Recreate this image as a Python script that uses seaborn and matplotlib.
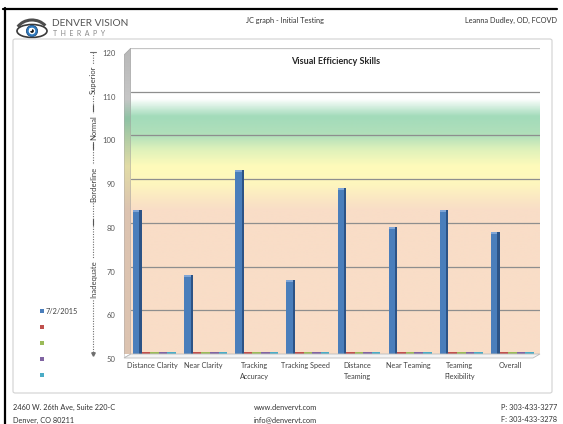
import numpy as np
import pandas as pd
import matplotlib
matplotlib.use("Agg")
import matplotlib.pyplot as plt
import matplotlib.transforms as mtransforms
from matplotlib.patches import Rectangle, Polygon, FancyBboxPatch, Ellipse, Circle, Arc
from matplotlib.lines import Line2D
from matplotlib.colors import LinearSegmentedColormap
import seaborn as sns

# ---- data -------------------------------------------------------------
categories = ["Distance Clarity", "Near Clarity", "Tracking\nAccuracy", "Tracking Speed",
              "Distance\nTeaming", "Near Teaming", "Teaming\nFlexibility", "Overall"]
scores_2015 = [83, 68, 92, 67, 88, 79, 83, 78]
series_2 = [50.5, 50.5, 50.5, 50.5, 50.5, 50.5, 50.5, 50.5]
series_3 = [50.5, 50.5, 50.5, 50.5, 50.5, 50.5, 50.5, 50.5]
series_4 = [50.5, 50.5, 50.5, 50.5, 50.5, 50.5, 50.5, 50.5]
series_5 = [50.5, 50.5, 50.5, 50.5, 50.5, 50.5, 50.5, 50.5]
series_names = ["7/2/2015", "Series 2", "Series 3", "Series 4", "Series 5"]
legend_labels = ["7/2/2015", "", "", "", ""]
series_colors = ["#4A7EBB", "#C0504D", "#9BBB59", "#8064A2", "#4BACC6"]
y_ticks = [50, 60, 70, 80, 90, 100, 110, 120]
band_labels = ["Inadequate", "Borderline", "Normal", "Superior"]

W, H = 563, 424


def fx(x):
    return x / W


def fy(y):
    return 1 - y / H


sns.set_style("white")
plt.rcParams["font.family"] = ["Lato", "DejaVu Sans"]

fig = plt.figure(figsize=(W / 100, H / 100), dpi=100)
fig.patch.set_facecolor("white")

rows = []
for name, vals in zip(series_names, [scores_2015, series_2, series_3, series_4, series_5]):
    for cat, v in zip(categories, vals):
        rows.append({"skill": cat, "score": v, "series": name})
df = pd.DataFrame(rows)

# ---- main plot area (back wall of the 3-D chart) -----------------------
ax = fig.add_axes([fx(131), fy(354), (540 - 131) / W, (354 - 48) / H])
sns.barplot(data=df, x="skill", y="score", hue="series", hue_order=series_names,
            order=categories, palette=series_colors, width=0.84, saturation=1,
            linewidth=0, legend=False, ax=ax, zorder=3)
XL = (-0.46, 7.54)
ax.set_xlim(*XL)
ax.set_ylim(50, 120)
ax.set_xlabel("")
ax.set_ylabel("")
for s in ax.spines.values():
    s.set_visible(False)

# rating bands as a vertical colour gradient
stops = [(50, "#F9DDC7"), (83, "#F9DDC7"), (89, "#FEF6BE"), (93, "#FFFBBA"),
         (97, "#DDF1BB"), (100, "#B2E0BA"), (104.5, "#A2DBBA"), (108.5, "#FFFFFF"),
         (120, "#FFFFFF")]
band_cmap = LinearSegmentedColormap.from_list(
    "bands", [((v - 50) / 70, c) for v, c in stops])
grad = np.linspace(0, 1, 700)[:, None]
ax.imshow(grad, extent=[XL[0], XL[1], 50, 120], origin="lower", aspect="auto",
          cmap=band_cmap, zorder=0, interpolation="bilinear")

for v in y_ticks[1:-1]:
    ax.axhline(v, color="#8E8E8E", lw=0.9, zorder=1)
ax.axhline(120, color="#C4C4C4", lw=0.9, zorder=1)

# shaded side face on the dated series
for p in ax.containers[0]:
    x, w, h = p.get_x(), p.get_width(), p.get_height()
    ax.add_patch(Rectangle((x + w * 0.74, 0), w * 0.26, h, color="#2C5386", zorder=4, lw=0))
    ax.add_patch(Rectangle((x, h - 0.45), w * 0.74, 0.45, color="#7FA5D6", zorder=4, lw=0))

ax.set_yticks(y_ticks)
ax.set_yticklabels([str(t) for t in y_ticks], fontsize=5.5, color="#595959")
ax.tick_params(axis="y", length=0, pad=11)
shift = mtransforms.ScaledTranslation(0, -5 / 100, fig.dpi_scale_trans)
for lab in ax.get_yticklabels():
    lab.set_transform(lab.get_transform() + shift)

ax.set_xticks(range(len(categories)))
ax.set_xticklabels(categories, fontsize=5.2, color="#404040", linespacing=1.55, va="top")
ax.tick_params(axis="x", length=0, pad=6)
xshift = mtransforms.ScaledTranslation(-2 / 100, 0, fig.dpi_scale_trans)
for lab in ax.get_xticklabels():
    lab.set_transform(lab.get_transform() + xshift)

ax.text(0.5, 1 - 13 / 306, "Visual Efficiency Skills", transform=ax.transAxes,
        ha="center", va="center", fontsize=6.5, fontweight="bold", color="#262626")

# ---- floor and side wall -----------------------------------------------
floor = Polygon([(fx(124), fy(358)), (fx(533), fy(358)), (fx(540), fy(354)), (fx(131), fy(354))],
                closed=True, transform=fig.transFigure, fc="#F4F4F4", ec="#BDBDBD", lw=0.6,
                zorder=5)
fig.add_artist(floor)

wall = fig.add_axes([fx(124), fy(358), 7 / W, 310 / H])
wall.set_xlim(0, 1)
wall.set_ylim(358, 48)
wall.axis("off")
wall_stops = [(50, "#DCC3B0"), (83, "#DCC3B0"), (93, "#E2DCA6"), (104, "#8FC2A4"),
              (108.5, "#C6C6C6"), (120, "#B8B8B8")]
wall_cmap = LinearSegmentedColormap.from_list(
    "wall", [((v - 50) / 70, c) for v, c in wall_stops])
im = wall.imshow(np.linspace(0, 1, 400)[:, None], extent=[0, 1, 354, 48], origin="lower",
                 aspect="auto", cmap=wall_cmap, interpolation="bilinear")
wall_shape = [(0, 358), (1, 354), (1, 48), (0, 55)]
clip = Polygon(wall_shape, closed=True, transform=wall.transData)
im.set_clip_path(clip)
wall.add_patch(Polygon(wall_shape, closed=True, fill=False, ec="#A8A8A8", lw=0.6))

# ---- rating scale at the left ------------------------------------------
fig.add_artist(Line2D([fx(93), fx(93)], [fy(52), fy(353)], color="#6E6E6E", lw=0.8,
                      ls=(0, (1, 1.3)), transform=fig.transFigure))
fig.add_artist(Line2D([fx(90), fx(96)], [fy(52), fy(52)], color="#6E6E6E", lw=0.8,
                      transform=fig.transFigure))
fig.add_artist(Line2D([fx(93)], [fy(354)], marker="v", ms=2.5, color="#6E6E6E",
                      transform=fig.transFigure))
for ysep in (108, 146, 222):
    fig.add_artist(Line2D([fx(93), fx(93)], [fy(ysep - 3), fy(ysep + 3)], color="#555555",
                          lw=0.8, transform=fig.transFigure))
for lab, yc in zip(band_labels, (279, 184, 128, 80)):
    fig.text(fx(93.5), fy(yc), lab, rotation=90, ha="center", va="center", fontsize=5.5,
             color="#404040",
             bbox=dict(boxstyle="square,pad=0.15", fc="white", ec="none"))

# ---- legend -----------------------------------------------------------
for i, (lab, col) in enumerate(zip(legend_labels, series_colors)):
    yc = 311 + 16 * i
    fig.add_artist(Rectangle((fx(40), fy(yc + 2)), 4 / W, 4 / H, transform=fig.transFigure,
                             fc=col, ec="none"))
    if lab:
        fig.text(fx(45.5), fy(yc), lab, ha="left", va="center", fontsize=5.3, color="#404040")

# ---- page furniture -----------------------------------------------------
fig.add_artist(FancyBboxPatch((fx(13), fy(393)), (552 - 13) / W, (393 - 39) / H,
                              boxstyle="round,pad=0,rounding_size=0.004",
                              transform=fig.transFigure, fc="none", ec="#D2D2D2", lw=0.8))
fig.add_artist(Line2D([fx(3), fx(557)], [fy(8.5), fy(8.5)], color="black", lw=1.6,
                      transform=fig.transFigure))
fig.add_artist(Line2D([fx(4.5), fx(4.5)], [fy(8), fy(424)], color="black", lw=1.6,
                      transform=fig.transFigure))

# logo
logo = fig.add_axes([fx(14), fy(41), 36 / W, 28 / H])
logo.set_xlim(0, 36)
logo.set_ylim(0, 28)
logo.set_aspect("equal")
logo.axis("off")
logo.add_patch(Arc((18, 6), 34, 30, theta1=35, theta2=150, color="#4D4D4D", lw=2.2))
logo.add_patch(Ellipse((18, 10), 30, 13, fc="white", ec="#3A3A3A", lw=1.2))
logo.add_patch(Circle((18, 10), 5.6, fc="#2F7BC0", ec="#1E4F80", lw=0.6))
logo.add_patch(Circle((18, 10), 2.6, fc="#111111"))
logo.add_patch(Circle((16.6, 11.4), 0.9, fc="white"))
fig.text(fx(52), fy(24), "DENVER VISION", ha="left", va="center", fontsize=7.3,
         color="#555555")
fig.text(fx(53), fy(34), "T  H  E  R  A  P  Y", ha="left", va="center", fontsize=5,
         color="#8A8A8A")

fig.text(fx(285), fy(20), "JC graph - Initial Testing", ha="center", va="center",
         fontsize=5.3, color="#333333")
fig.text(fx(557), fy(20), "Leanna Dudley, OD, FCOVD", ha="right", va="center",
         fontsize=5.3, color="#333333")

fig.text(fx(13), fy(407), "2460 W. 26th Ave, Suite 220-C", ha="left", va="center",
         fontsize=5.3, color="#333333")
fig.text(fx(13), fy(420), "Denver, CO 80211", ha="left", va="center", fontsize=5.3,
         color="#333333")
fig.text(fx(254), fy(407), "www.denvervt.com", ha="left", va="center", fontsize=5.3,
         color="#333333")
fig.text(fx(254), fy(420), "info@denvervt.com", ha="left", va="center", fontsize=5.3,
         color="#333333")
fig.text(fx(557), fy(407), "P: 303-433-3277", ha="right", va="center", fontsize=5.3,
         color="#333333")
fig.text(fx(557), fy(420), "F: 303-433-3278", ha="right", va="center", fontsize=5.3,
         color="#333333")

fig.savefig("out.png", dpi=100)
